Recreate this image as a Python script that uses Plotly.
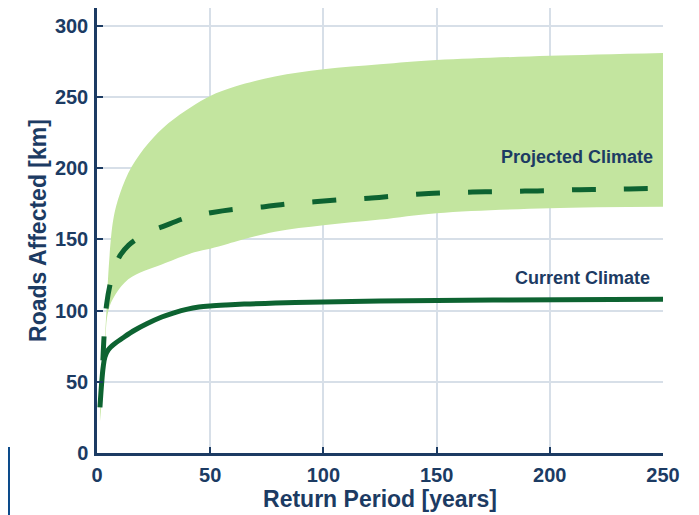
import plotly.graph_objects as go

# Return period (years) and roads affected (km)
cur_x = [1.3, 2, 2.7, 3.5, 5, 8, 12, 16.8, 22, 28.6, 34, 40, 45, 50, 57, 65, 87.5, 125, 175, 250]
cur_y = [32, 48, 60, 67.5, 72.5, 77, 81.5, 86.4, 90.8, 95.5, 98.5, 101.1, 102.5, 103.3, 104, 104.6, 105.8, 106.8, 107.4, 108]

proj_x = [2.6, 3.2, 4.2, 6, 8, 10.3, 14, 18.2, 24, 29, 39, 51, 62, 74, 84, 96, 108, 120, 131, 143, 154, 166, 177, 189, 200, 212, 223, 235, 250]
proj_y = [65, 84, 104, 120, 131, 139, 146, 151, 156, 159, 165, 169, 171.5, 173, 175, 176.5, 178, 179, 180.5, 182, 182.7, 183.3, 183.6, 184, 184.3, 185, 185.2, 185.5, 186]

band_upper_x = [1.3, 2.5, 3.5, 4.3, 5, 7.2, 10.2, 15.3, 22.7, 31.5, 41.8, 50, 61, 78.6, 100, 125, 150, 200, 250]
band_upper = [28, 60, 82, 103, 126, 164, 182.5, 201, 217.6, 231.6, 243.3, 250.8, 257.4, 264.4, 269.5, 273, 276, 279, 281]
band_lower_x = [1.3, 2.5, 3.5, 5, 8, 13.8, 21, 28.6, 43, 50, 58, 78.6, 100, 125, 150, 200, 250]
band_lower = [22, 45, 75, 100, 111, 122, 128, 132.5, 141, 143.5, 147, 155.5, 160, 164, 168.5, 172, 173]

x_ticks = [0, 50, 100, 150, 200, 250]
y_ticks = [0, 50, 100, 150, 200, 250, 300]

navy = "#1c3b63"
dark_green = "#0d6331"
band_green = "#c3e59f"
grid_col = "#d7dfe8"
FONT = "Liberation Sans, Arial, sans-serif"

fig = go.Figure()
fig.add_trace(go.Scatter(x=band_lower_x, y=band_lower, mode="lines",
                         line=dict(width=0, shape="spline", smoothing=1),
                         showlegend=False, hoverinfo="skip"))
fig.add_trace(go.Scatter(x=band_upper_x, y=band_upper, mode="lines",
                         line=dict(width=0, shape="spline", smoothing=1),
                         fill="tonexty", fillcolor=band_green, showlegend=False, hoverinfo="skip"))
fig.add_trace(go.Scatter(x=cur_x, y=cur_y, mode="lines", name="Current Climate",
                         line=dict(color=dark_green, width=5, shape="spline", smoothing=1),
                         showlegend=False))
fig.add_trace(go.Scatter(x=proj_x, y=proj_y, mode="lines", name="Projected Climate",
                         line=dict(color=dark_green, width=5, dash="24px,28px", shape="spline", smoothing=1),
                         showlegend=False))

fig.add_annotation(x=250, y=208, xref="x", yref="y", text="<b>Projected Climate</b>", showarrow=False,
                   xanchor="right", yanchor="middle", xshift=-8,
                   font=dict(family=FONT, size=18, color=navy))
fig.add_annotation(x=250, y=123, xref="x", yref="y", text="<b>Current Climate</b>", showarrow=False,
                   xanchor="right", yanchor="middle", xshift=-11,
                   font=dict(family=FONT, size=18, color=navy))

fig.add_shape(type="line", xref="paper", yref="paper", x0=-0.1555, x1=-0.1555, y0=0.0135, y1=-0.2,
              line=dict(color="#0b4a8a", width=2))

tickfont = dict(family=FONT, size=20, color=navy)
fig.update_layout(
    width=699, height=515,
    margin=dict(l=89, r=44, t=0, b=70),
    paper_bgcolor="white", plot_bgcolor="white",
    font=dict(family=FONT, color=navy),
    xaxis=dict(range=[0, 250], tickvals=x_ticks,
               ticktext=["<b>%d</b>" % v for v in x_ticks],
               showgrid=True, gridcolor=grid_col, gridwidth=1.5,
               showline=True, linecolor=navy, linewidth=2.5,
               ticks="inside", ticklen=6, tickwidth=2, tickcolor=navy,
               tickfont=tickfont, zeroline=False, ticklabelstandoff=2,
               title=dict(text="<b>Return Period [years]</b>", font=dict(family=FONT, size=23, color=navy), standoff=1)),
    yaxis=dict(range=[0, 312.6], tickvals=y_ticks,
               ticktext=["<b>%d</b>" % v for v in y_ticks],
               showgrid=True, gridcolor=grid_col, gridwidth=1.5,
               showline=True, linecolor=navy, linewidth=2.5,
               ticks="inside", ticklen=6, tickwidth=2, tickcolor=navy,
               tickfont=tickfont, zeroline=False, ticklabelstandoff=2,
               title=dict(text="<b>Roads Affected [km]</b>", font=dict(family=FONT, size=23, color=navy), standoff=2)),
)

fig.write_html("out.html")
